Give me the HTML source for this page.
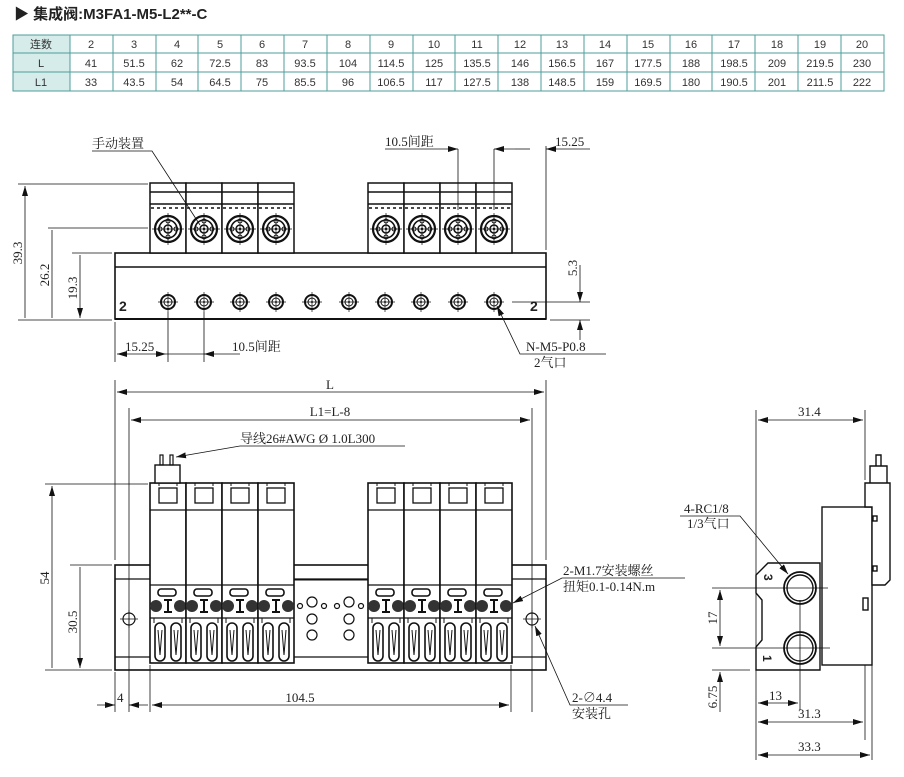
<!DOCTYPE html>
<html><head><meta charset="utf-8"><style>
body{margin:0;background:#fff}
svg{display:block}
text{font-family:"Liberation Serif","Noto Serif CJK SC",serif;font-size:13px;fill:#222}
.t{font-family:"Liberation Sans","Noto Sans CJK SC",sans-serif;font-size:11px;fill:#333}
</style></head><body>
<svg width="904" height="777" viewBox="0 0 904 777" xmlns="http://www.w3.org/2000/svg">
<defs>
<marker id="a" viewBox="0 0 10 6" refX="10" refY="3" markerWidth="10" markerHeight="6" orient="auto-start-reverse" markerUnits="userSpaceOnUse"><path d="M0,0L10,3L0,6z" fill="#111"/></marker>
<g id="knob">
<circle r="13" fill="none" stroke="#111" stroke-width="2.2"/>
<circle r="9" fill="none" stroke="#111" stroke-width="1.6"/>
<circle r="4" fill="none" stroke="#111" stroke-width="1.5"/>
<circle r="1.2" fill="#111"/>
<circle cx="0" cy="-8" r="2" fill="none" stroke="#111"/><circle cx="0" cy="8" r="2" fill="none" stroke="#111"/>
<circle cx="-8" cy="0" r="2" fill="none" stroke="#111"/><circle cx="8" cy="0" r="2" fill="none" stroke="#111"/>
<path d="M-16,0H16M0,-16V16" stroke="#111" stroke-width="0.7"/>
</g>
<g id="vt">
<rect x="0" y="183" width="36" height="70" fill="#fff" stroke="#111" stroke-width="1.5"/>
<path d="M0,192H36M0,204H36" stroke="#111" stroke-width="1.5"/>
<path d="M1,208H35" stroke="#111" stroke-width="1.5" stroke-dasharray="3,3"/>
<use href="#knob" x="18" y="229"/>
</g>
<g id="port">
<circle r="7" fill="none" stroke="#111" stroke-width="2"/>
<circle r="4" fill="none" stroke="#111" stroke-width="1"/>
<circle r="1" fill="#111"/>
<path d="M-10,0H10M0,-10V10" stroke="#111" stroke-width="0.7"/>
</g>
<g id="vf">
<rect x="0" y="483" width="36" height="180" fill="#fff" stroke="#111" stroke-width="1.6"/>
<rect x="9" y="488" width="18" height="15" fill="none" stroke="#111" stroke-width="1.3"/>
<path d="M9,486V483M27,486V483" stroke="#111"/>
<path d="M0,510H36M0,585H36M0,618H36" stroke="#111" stroke-width="1.2"/>
<rect x="8" y="589" width="18" height="7" rx="3" fill="none" stroke="#111" stroke-width="1.6"/>
<circle cx="6" cy="606" r="6" fill="#333"/><circle cx="30" cy="606" r="6" fill="#333"/>
<path d="M14,600H22M18,600V612M14,612H22" stroke="#111" stroke-width="2"/>
<path d="M4,618V623M32,618V623" stroke="#111"/>
<rect x="5" y="623" width="10" height="38" rx="5" fill="none" stroke="#111" stroke-width="1.6"/>
<rect x="21" y="623" width="10" height="38" rx="5" fill="none" stroke="#111" stroke-width="1.6"/>
<path d="M8,630L10,655L12,630" fill="none" stroke="#111"/><path d="M24,630L26,655L28,630" fill="none" stroke="#111"/>
</g>
</defs>

<text x="14" y="19" style="font-family:'Liberation Sans','Noto Sans CJK SC',sans-serif;font-size:15px;font-weight:bold;fill:#222">▶ 集成阀:M3FA1-M5-L2**-C</text>

<g>
<rect x="13" y="35" width="57" height="56" fill="#d6ecea"/>
<rect x="13" y="35" width="871" height="56" fill="none" stroke="#4d9e98" stroke-width="1"/>
<path d="M13,53H884M13,72H884" stroke="#4d9e98"/>
<path d="M70,35V91M113,35V91M156,35V91M198,35V91M241,35V91M284,35V91M327,35V91M370,35V91M413,35V91M455,35V91M498,35V91M541,35V91M584,35V91M627,35V91M670,35V91M712,35V91M755,35V91M798,35V91M841,35V91" stroke="#4d9e98"/>
<text class="t" x="41" y="48" text-anchor="middle">连数</text>
<text class="t" x="41" y="67" text-anchor="middle">L</text>
<text class="t" x="41" y="86" text-anchor="middle">L1</text>
<text class="t" x="91" y="48" text-anchor="middle">2</text><text class="t" x="134" y="48" text-anchor="middle">3</text><text class="t" x="177" y="48" text-anchor="middle">4</text><text class="t" x="220" y="48" text-anchor="middle">5</text><text class="t" x="262" y="48" text-anchor="middle">6</text><text class="t" x="305" y="48" text-anchor="middle">7</text><text class="t" x="348" y="48" text-anchor="middle">8</text><text class="t" x="391" y="48" text-anchor="middle">9</text><text class="t" x="434" y="48" text-anchor="middle">10</text><text class="t" x="477" y="48" text-anchor="middle">11</text><text class="t" x="520" y="48" text-anchor="middle">12</text><text class="t" x="562" y="48" text-anchor="middle">13</text><text class="t" x="605" y="48" text-anchor="middle">14</text><text class="t" x="648" y="48" text-anchor="middle">15</text><text class="t" x="691" y="48" text-anchor="middle">16</text><text class="t" x="734" y="48" text-anchor="middle">17</text><text class="t" x="777" y="48" text-anchor="middle">18</text><text class="t" x="820" y="48" text-anchor="middle">19</text><text class="t" x="862" y="48" text-anchor="middle">20</text>
<text class="t" x="91" y="67" text-anchor="middle">41</text><text class="t" x="134" y="67" text-anchor="middle">51.5</text><text class="t" x="177" y="67" text-anchor="middle">62</text><text class="t" x="220" y="67" text-anchor="middle">72.5</text><text class="t" x="262" y="67" text-anchor="middle">83</text><text class="t" x="305" y="67" text-anchor="middle">93.5</text><text class="t" x="348" y="67" text-anchor="middle">104</text><text class="t" x="391" y="67" text-anchor="middle">114.5</text><text class="t" x="434" y="67" text-anchor="middle">125</text><text class="t" x="477" y="67" text-anchor="middle">135.5</text><text class="t" x="520" y="67" text-anchor="middle">146</text><text class="t" x="562" y="67" text-anchor="middle">156.5</text><text class="t" x="605" y="67" text-anchor="middle">167</text><text class="t" x="648" y="67" text-anchor="middle">177.5</text><text class="t" x="691" y="67" text-anchor="middle">188</text><text class="t" x="734" y="67" text-anchor="middle">198.5</text><text class="t" x="777" y="67" text-anchor="middle">209</text><text class="t" x="820" y="67" text-anchor="middle">219.5</text><text class="t" x="862" y="67" text-anchor="middle">230</text>
<text class="t" x="91" y="86" text-anchor="middle">33</text><text class="t" x="134" y="86" text-anchor="middle">43.5</text><text class="t" x="177" y="86" text-anchor="middle">54</text><text class="t" x="220" y="86" text-anchor="middle">64.5</text><text class="t" x="262" y="86" text-anchor="middle">75</text><text class="t" x="305" y="86" text-anchor="middle">85.5</text><text class="t" x="348" y="86" text-anchor="middle">96</text><text class="t" x="391" y="86" text-anchor="middle">106.5</text><text class="t" x="434" y="86" text-anchor="middle">117</text><text class="t" x="477" y="86" text-anchor="middle">127.5</text><text class="t" x="520" y="86" text-anchor="middle">138</text><text class="t" x="562" y="86" text-anchor="middle">148.5</text><text class="t" x="605" y="86" text-anchor="middle">159</text><text class="t" x="648" y="86" text-anchor="middle">169.5</text><text class="t" x="691" y="86" text-anchor="middle">180</text><text class="t" x="734" y="86" text-anchor="middle">190.5</text><text class="t" x="777" y="86" text-anchor="middle">201</text><text class="t" x="820" y="86" text-anchor="middle">211.5</text><text class="t" x="862" y="86" text-anchor="middle">222</text>
</g>

<!-- TOP VIEW -->
<g fill="none" stroke="#111">
<rect x="115" y="253" width="431" height="66" fill="#fff" stroke-width="1.6"/>
<path d="M115,267H546" stroke-width="1.4"/>
<path d="M115,319H546" stroke-width="2"/>
</g>
<use href="#vt" x="150"/><use href="#vt" x="186"/><use href="#vt" x="222"/><use href="#vt" x="258"/>
<use href="#vt" x="368"/><use href="#vt" x="404"/><use href="#vt" x="440"/><use href="#vt" x="476"/>
<use href="#port" x="168" y="302"/><use href="#port" x="204" y="302"/><use href="#port" x="240" y="302"/><use href="#port" x="276" y="302"/><use href="#port" x="312" y="302"/><use href="#port" x="349" y="302"/><use href="#port" x="385" y="302"/><use href="#port" x="421" y="302"/><use href="#port" x="458" y="302"/><use href="#port" x="494" y="302"/>
<text x="119" y="311" style="font-family:'Liberation Sans',sans-serif;font-weight:bold;font-size:14px">2</text>
<text x="530" y="311" style="font-family:'Liberation Sans',sans-serif;font-weight:bold;font-size:14px">2</text>

<g stroke="#111" stroke-width="0.8" fill="none">
<path d="M18,184H148M48,228H148M72,253H112M18,320H112"/>
<path d="M25,186V318M52,230V318M80,255V318" marker-start="url(#a)" marker-end="url(#a)"/>
<path d="M115,322V362M168,312V362M204,312V362"/>
<path d="M117,354H166" marker-start="url(#a)" marker-end="url(#a)"/>
<path d="M204,354H240" marker-start="url(#a)"/>
<path d="M166,354H206"/>
<path d="M458,149V210M494,149V210M546,146V250"/>
<path d="M385,149H458" marker-end="url(#a)"/>
<path d="M494,149H515" marker-start="url(#a)"/>
<path d="M546,149H590" marker-start="url(#a)"/>
<path d="M515,149H530" />
<path d="M92,151H152L200,225"/>
<path d="M512,302H590M550,320H590"/>
<path d="M580,265V302" marker-end="url(#a)"/>
<path d="M580,320V340" marker-start="url(#a)"/>
<path d="M497,306L520,354H606" marker-start="url(#a)"/>
</g>
<text x="92" y="148">手动装置</text>
<text x="385" y="146">10.5间距</text>
<text x="555" y="146">15.25</text>
<text x="22" y="253" transform="rotate(-90 22 253)" text-anchor="middle">39.3</text>
<text x="49" y="275" transform="rotate(-90 49 275)" text-anchor="middle">26.2</text>
<text x="77" y="288" transform="rotate(-90 77 288)" text-anchor="middle">19.3</text>
<text x="577" y="268" transform="rotate(-90 577 268)" text-anchor="middle">5.3</text>
<text x="125" y="351">15.25</text>
<text x="232" y="351">10.5间距</text>
<text x="526" y="351">N-M5-P0.8</text>
<text x="534" y="367">2气口</text>

<!-- FRONT VIEW -->
<g fill="none" stroke="#111">
<rect x="115" y="565" width="431" height="105" fill="#fff" stroke-width="1.6"/>
<path d="M115,579H546M115,657H546" stroke-width="1.2"/>
<path d="M293,580H368"/>
</g>
<use href="#vf" x="150"/><use href="#vf" x="186"/><use href="#vf" x="222"/><use href="#vf" x="258"/>
<use href="#vf" x="368"/><use href="#vf" x="404"/><use href="#vf" x="440"/><use href="#vf" x="476"/>
<g fill="none" stroke="#111" stroke-width="1.2">
<circle cx="312" cy="602" r="5"/><circle cx="349" cy="602" r="5"/><circle cx="312" cy="619" r="5"/><circle cx="349" cy="619" r="5"/><circle cx="312" cy="635" r="5"/><circle cx="349" cy="635" r="5"/>
<circle cx="300" cy="606" r="2.5"/><circle cx="324" cy="606" r="2.5"/><circle cx="337" cy="606" r="2.5"/><circle cx="361" cy="606" r="2.5"/>
<circle cx="129" cy="619" r="6"/><circle cx="532" cy="619" r="6"/>
<path d="M120,619H138M129,610V628M523,619H541M532,610V628" stroke-width="0.7"/>
<rect x="155" y="465" width="25" height="18" fill="#fff" stroke-width="1.4"/>
<rect x="160" y="455" width="3" height="10"/><rect x="170" y="455" width="3" height="10"/>
</g>
<g stroke="#111" stroke-width="0.8" fill="none">
<path d="M115,380V560M546,380V560M129,408V712M532,408V712"/>
<path d="M117,392H544" marker-start="url(#a)" marker-end="url(#a)"/>
<path d="M131,420H530" marker-start="url(#a)" marker-end="url(#a)"/>
<path d="M405,446H240L176,457" marker-end="url(#a)"/>
<path d="M45,484H148M70,565H112M45,670H112"/>
<path d="M52,486V668M80,567V668" marker-start="url(#a)" marker-end="url(#a)"/>
<path d="M115,672V712M150,665V712M511,665V712"/>
<path d="M97,705H115" marker-end="url(#a)"/>
<path d="M129,705H148" marker-start="url(#a)"/>
<path d="M152,705H509" marker-start="url(#a)" marker-end="url(#a)"/>
<path d="M685,578H562L513,603" marker-end="url(#a)"/>
<path d="M628,705H570L535,626" marker-end="url(#a)"/>
</g>
<text x="330" y="389" text-anchor="middle">L</text>
<text x="330" y="416" text-anchor="middle">L1=L-8</text>
<text x="240" y="443">导线26#AWG Ø 1.0L300</text>
<text x="49" y="578" transform="rotate(-90 49 578)" text-anchor="middle">54</text>
<text x="77" y="622" transform="rotate(-90 77 622)" text-anchor="middle">30.5</text>
<text x="117" y="702">4</text>
<text x="300" y="702" text-anchor="middle">104.5</text>
<text x="563" y="575">2-M1.7安装螺丝</text>
<text x="563" y="591">扭矩0.1-0.14N.m</text>
<text x="572" y="702">2-∅4.4</text>
<text x="572" y="718">安装孔</text>

<!-- SIDE VIEW -->
<g fill="none" stroke="#111" stroke-width="1.4">
<path d="M768,563H820V670H756V647L762,640V600L756,593V575Z" fill="#fff"/>
<rect x="822" y="507" width="50" height="158" fill="#fff"/>
<path d="M865,483H890V580L885,585H872V507H865Z" fill="#fff"/>
<path d="M870,483V466H887V483M876,466V455H881V466"/>
<rect x="863" y="598" width="5" height="12"/>
<rect x="873" y="516" width="4" height="5"/><rect x="873" y="566" width="4" height="5" />
<circle cx="800" cy="588" r="16" stroke-width="1.8"/><circle cx="800" cy="588" r="13"/>
<circle cx="800" cy="648" r="16" stroke-width="1.8"/><circle cx="800" cy="648" r="13"/>
</g>
<text x="763" y="583" style="font-family:'Liberation Sans',sans-serif;font-weight:bold;font-size:12px" transform="rotate(90 768 579)">3</text>
<text x="762" y="664" style="font-family:'Liberation Sans',sans-serif;font-weight:bold;font-size:12px" transform="rotate(90 767 660)">1</text>
<g stroke="#111" stroke-width="0.8" fill="none">
<path d="M756,410V760M865,410V480M865,665V740M872,665V760M800,600V710"/>
<path d="M758,420H863" marker-start="url(#a)" marker-end="url(#a)"/>
<path d="M758,722H863" marker-start="url(#a)" marker-end="url(#a)"/>
<path d="M758,755H870" marker-start="url(#a)" marker-end="url(#a)"/>
<path d="M758,703H798" marker-start="url(#a)" marker-end="url(#a)"/>
<path d="M712,588H828M712,648H830M712,670H750"/>
<path d="M720,590V646" marker-start="url(#a)" marker-end="url(#a)"/>
<path d="M720,672V712" marker-start="url(#a)"/>
<path d="M680,516H740L788,574" marker-end="url(#a)"/>
</g>
<text x="798" y="416">31.4</text>
<text x="798" y="718">31.3</text>
<text x="798" y="751">33.3</text>
<text x="769" y="700">13</text>
<text x="717" y="618" transform="rotate(-90 717 618)" text-anchor="middle">17</text>
<text x="717" y="697" transform="rotate(-90 717 697)" text-anchor="middle">6.75</text>
<text x="684" y="513">4-RC1/8</text>
<text x="687" y="528">1/3气口</text>
</svg>
</body></html>
